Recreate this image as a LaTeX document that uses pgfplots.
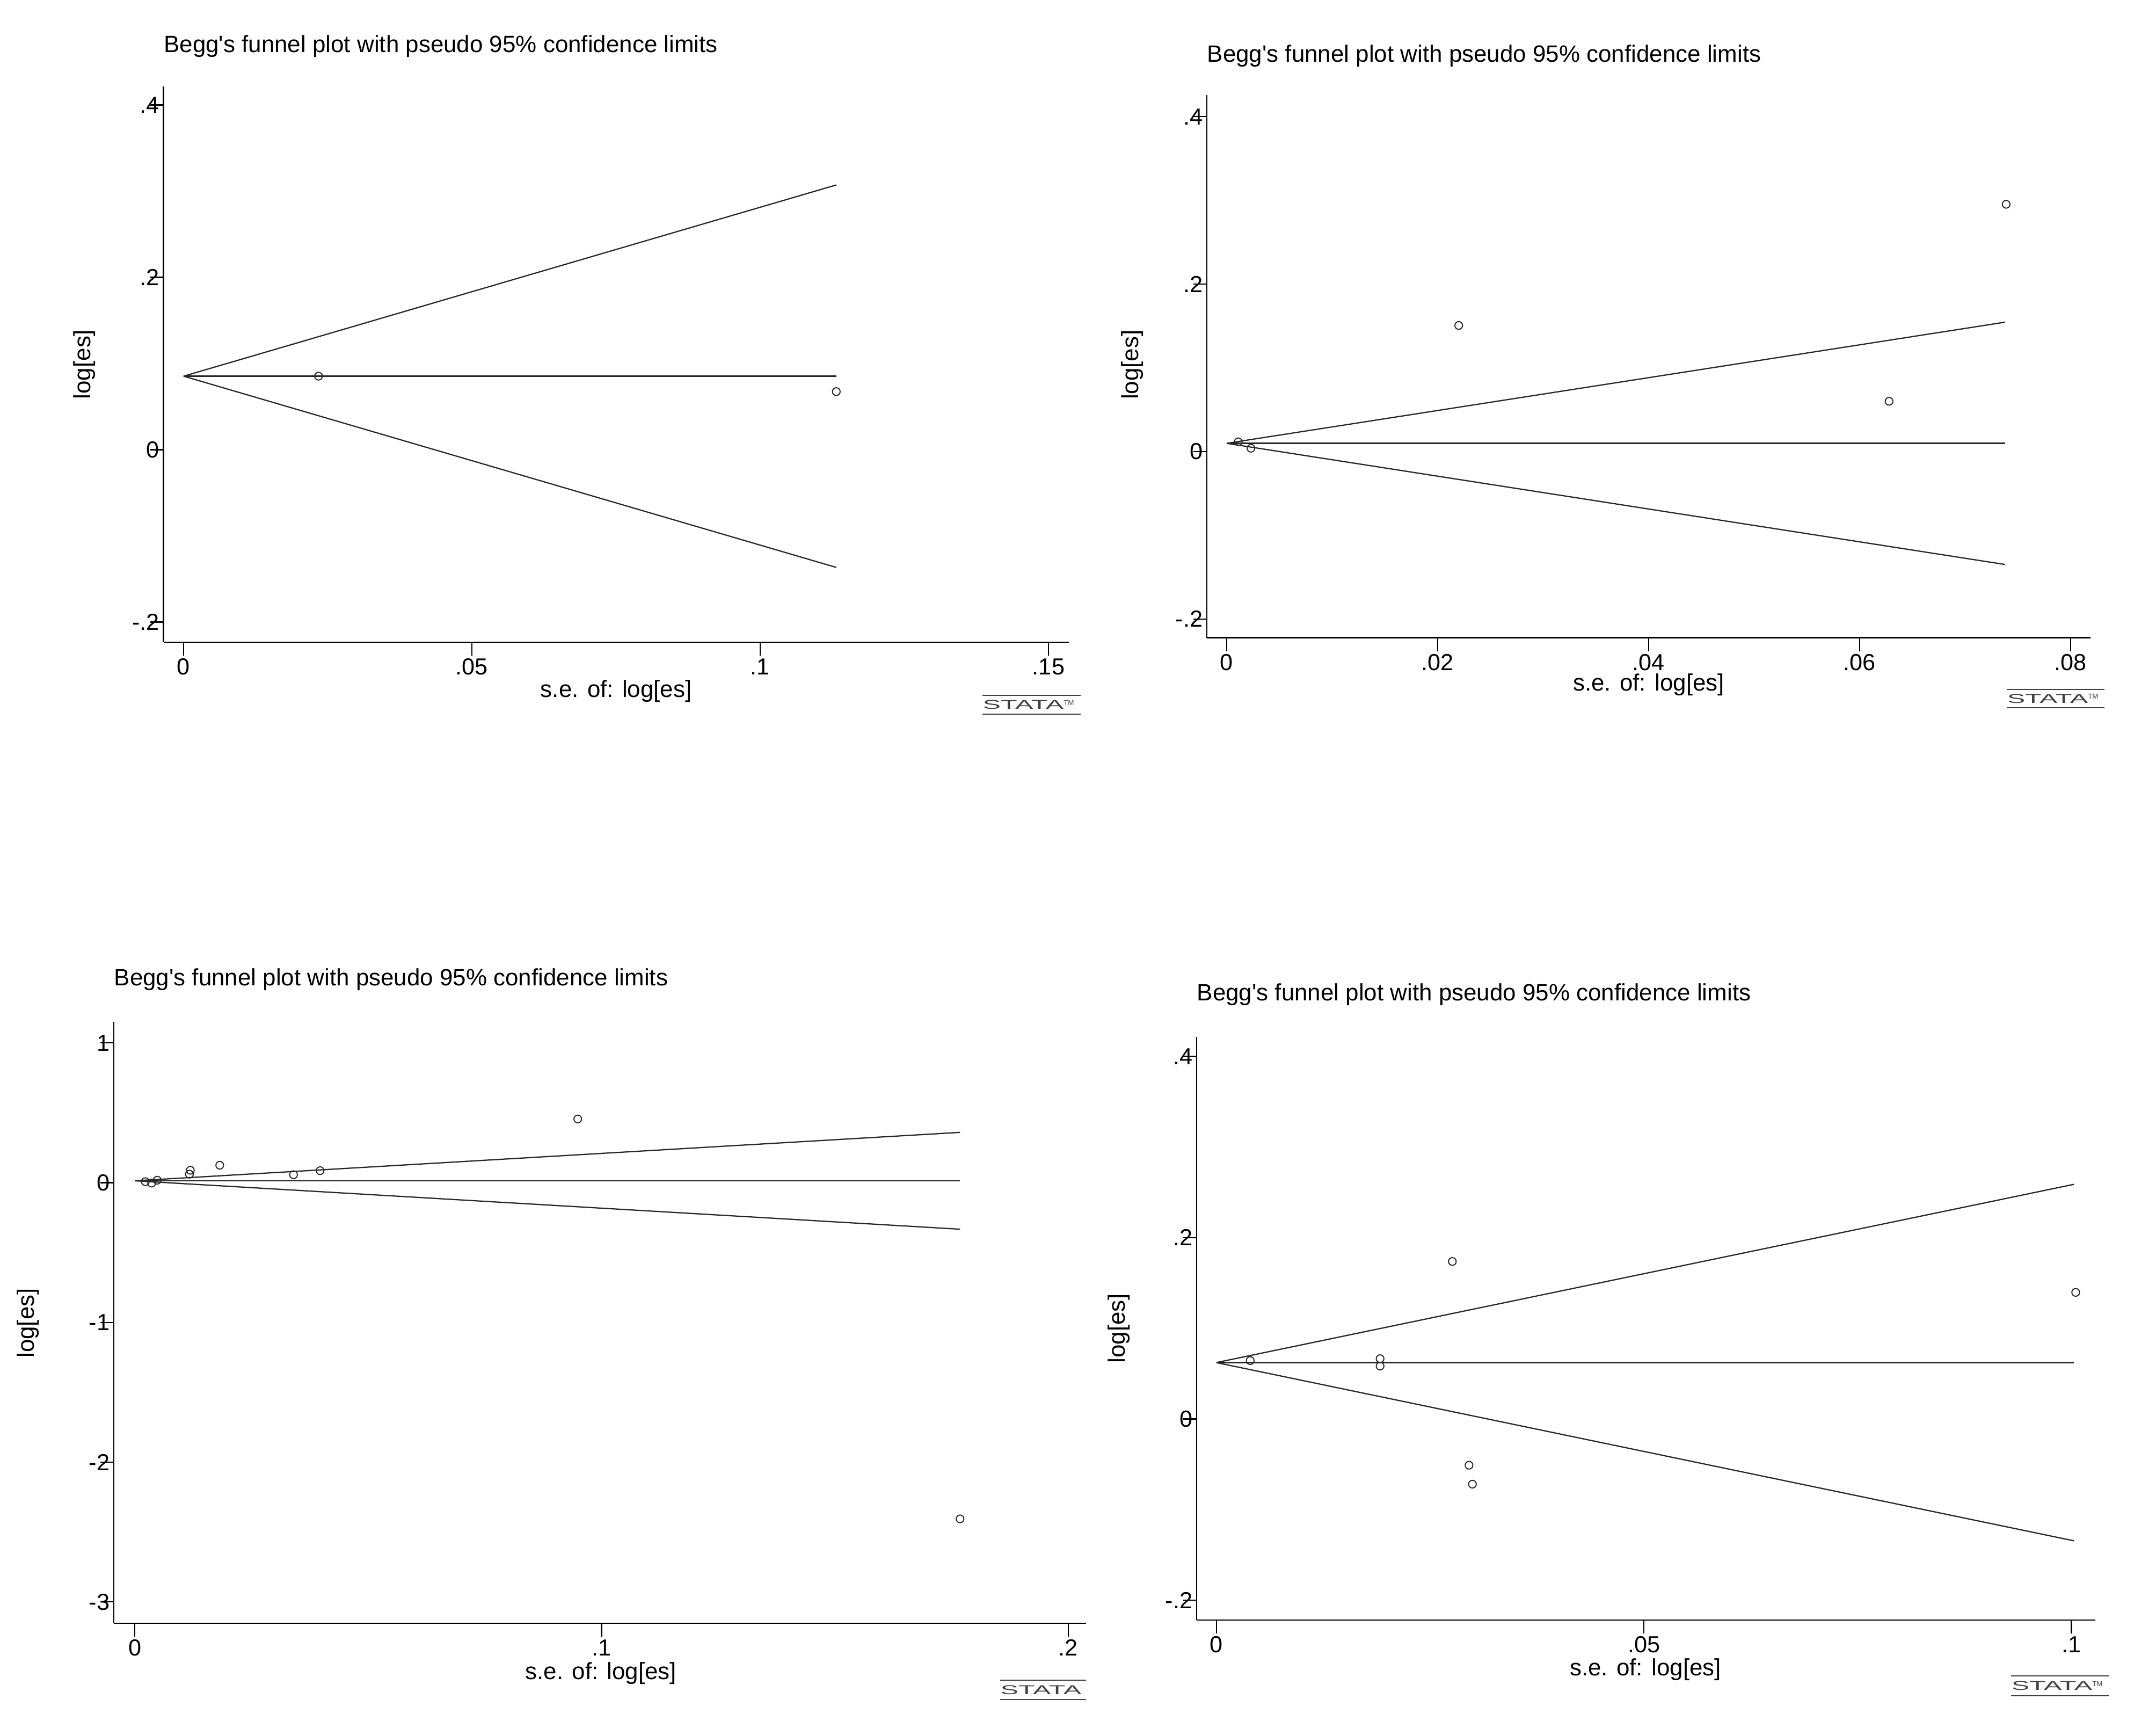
\documentclass[border=0pt]{standalone}
\usepackage{fontspec}
\setmainfont{Liberation Sans}[Ligatures=TeXOff]
\usepackage{graphicx}
\usepackage{pgfplots}
\pgfplotsset{compat=1.18}

\newcommand\tfont{\fontsize{12.5}{15}\selectfont}
\newcommand\kfont{\fontsize{12.3}{14.5}\selectfont}
\newcommand\logotext[1]{\fontsize{6.8}{7}\selectfont\scalebox{2.1}[1]{STATA}#1}

\pgfplotsset{
  stata/.style={
    scale only axis,
    axis lines=left,
    axis line style={-, line width=0.65pt, black},
    tick align=outside,
    major tick length=0.25cm,
    tick style={line width=0.65pt, black},
    scaled x ticks=false,
    scaled y ticks=false,
    /pgf/number format/assume math mode=true,
    tick label style={font=\kfont, inner sep=0pt},
    xticklabel style={anchor=center, yshift=-0.21cm},
    yticklabel style={anchor=east, xshift=0.18cm},
    title style={font=\tfont, anchor=west, inner sep=0pt},
    label style={font=\tfont, inner sep=0pt},
    xlabel style={anchor=center},
    ylabel style={anchor=center},
    clip=false,
    xlabel={s.e. of: log[es]},
    ylabel={log[es]},
    title={Begg's funnel plot with pseudo 95\% confidence limits},
  },
  funnel/.style={no marks, line width=0.65pt, black!85},
  pts/.style={only marks, mark=o, mark size=2.05pt, mark options={line width=0.55pt, black!85}},
}

\begin{document}
\begin{tikzpicture}
\path[use as bounding box] (0,0) rectangle (40.16cm,-32.05cm);

% ---------------- Panel 1 ----------------
\begin{axis}[stata, at={(3.046cm,-11.96cm)}, anchor=south west,
  width=16.864cm, height=10.35cm,
  xmin=-0.00348, xmax=0.15354, ymin=-0.2234, ymax=0.4215,
  xtick={0,0.05,0.1,0.15}, xticklabels={0,.05,.1,.15},
  ytick={-0.2,0,0.2,0.4}, yticklabels={-.2,0,.2,.4},
  title style={at={(axis description cs:0,1.052)}},
  xlabel style={at={(axis description cs:0.5,-0.088)}},
  ylabel style={at={(axis description cs:-0.0875,0.5)}},
]
\addplot[funnel] coordinates {(0,0.0853) (0.1132,0.3072)};
\addplot[funnel] coordinates {(0,0.0853) (0.1132,-0.1366)};
\addplot[funnel] coordinates {(0,0.0853) (0.1132,0.0853)};
\addplot[pts] coordinates {(0.0234,0.0853) (0.1132,0.0674)};
\end{axis}

% ---------------- Panel 2 ----------------
\begin{axis}[stata, at={(22.48cm,-11.875cm)}, anchor=south west,
  width=16.46cm, height=10.105cm,
  xmin=-0.00188, xmax=0.0819, ymin=-0.2223, ymax=0.4258,
  xtick={0,0.02,0.04,0.06,0.08}, xticklabels={0,.02,.04,.06,.08},
  ytick={-0.2,0,0.2,0.4}, yticklabels={-.2,0,.2,.4},
  title style={at={(axis description cs:0,1.0515)}},
  xlabel style={at={(axis description cs:0.5,-0.087)}},
  ylabel style={at={(axis description cs:-0.0845,0.503)}},
]
\addplot[funnel] coordinates {(0,0.0098) (0.0738,0.1545)};
\addplot[funnel] coordinates {(0,0.0098) (0.0738,-0.1349)};
\addplot[funnel] coordinates {(0,0.0098) (0.0738,0.0098)};
\addplot[pts] coordinates {(0.0011,0.0116) (0.0023,0.0040) (0.0220,0.1506) (0.0628,0.0600) (0.0739,0.2953)};
\end{axis}

% ---------------- Panel 3 ----------------
\begin{axis}[stata, at={(2.12cm,-30.227cm)}, anchor=south west,
  width=18.11cm, height=11.197cm,
  xmin=-0.0045, xmax=0.2038, ymin=-3.152, ymax=1.151,
  xtick={0,0.1,0.2}, xticklabels={0,.1,.2},
  ytick={-3,-2,-1,0,1}, yticklabels={-3,-2,-1,0,1},
  title style={at={(axis description cs:0,1.0513)}},
  xlabel style={at={(axis description cs:0.501,-0.0833)}},
  ylabel style={at={(axis description cs:-0.0883,0.499)}},
]
\addplot[funnel] coordinates {(0,0.0136) (0.1768,0.3601)};
\addplot[funnel] coordinates {(0,0.0136) (0.1768,-0.3329)};
\addplot[funnel] coordinates {(0,0.0136) (0.1768,0.0136)};
\addplot[pts] coordinates {(0.00225,0.0074) (0.0036,-0.003) (0.0048,0.018) (0.0117,0.061) (0.0119,0.089) (0.0182,0.125) (0.034,0.057) (0.0397,0.086) (0.0949,0.456) (0.1768,-2.406)};
\end{axis}

% ---------------- Panel 4 ----------------
\begin{axis}[stata, at={(22.29cm,-30.17cm)}, anchor=south west,
  width=16.74cm, height=10.86cm,
  xmin=-0.0023, xmax=0.1028, ymin=-0.2218, ymax=0.4214,
  xtick={0,0.05,0.1}, xticklabels={0,.05,.1},
  ytick={-0.2,0,0.2,0.4}, yticklabels={-.2,0,.2,.4},
  title style={at={(axis description cs:0,1.0534)}},
  xlabel style={at={(axis description cs:0.4994,-0.0847)}},
  ylabel style={at={(axis description cs:-0.0866,0.5004)}},
]
\addplot[funnel] coordinates {(0,0.0622) (0.1003,0.2588)};
\addplot[funnel] coordinates {(0,0.0622) (0.1003,-0.1344)};
\addplot[funnel] coordinates {(0,0.0622) (0.1003,0.0622)};
\addplot[pts] coordinates {(0.00396,0.0644) (0.01915,0.0665) (0.01915,0.0583) (0.0276,0.1737) (0.02955,-0.0510) (0.02995,-0.0719) (0.1005,0.1396)};
\end{axis}

% ---------------- Stata logos ----------------
\foreach \xa/\xb/\ya/\yb/\tm in {18.30/20.13/12.95/13.30/1, 37.38/39.20/12.84/13.18/1, 18.63/20.23/31.29/31.65/0, 37.46/39.28/31.21/31.58/1}{
  \draw[line width=0.6pt, black!75] (\xa cm,-\ya cm) -- (\xb cm,-\ya cm);
  \draw[line width=0.6pt, black!75] (\xa cm,-\yb cm) -- (\xb cm,-\yb cm);
  \ifnum\tm=1
    \node[anchor=west, inner sep=0pt, black!75] at (\xa cm,-\ya cm/2-\yb cm/2) {\logotext{\raisebox{0.6ex}{\fontsize{3.8}{4}\selectfont TM}}};
  \else
    \node[anchor=west, inner sep=0pt, black!75] at (\xa cm,-\ya cm/2-\yb cm/2) {\logotext{}};
  \fi
}
\end{tikzpicture}
\end{document}
